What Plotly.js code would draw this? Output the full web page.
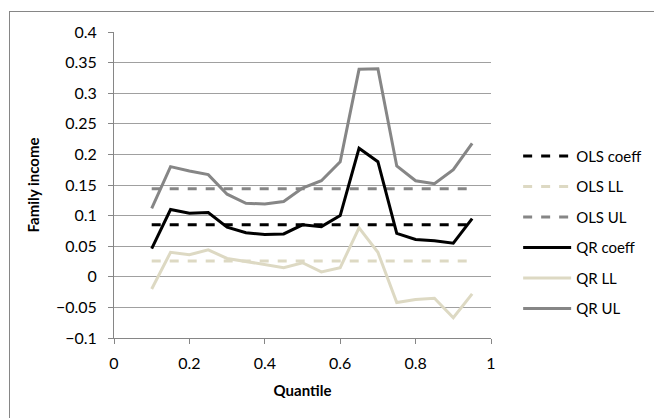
<!DOCTYPE html>
<html><head><meta charset="utf-8">
<script src="https://cdn.plot.ly/plotly-3.0.1.min.js"></script>
<style>
html,body{margin:0;padding:0;overflow:hidden;background:#fff;}
#frame{position:absolute;left:9px;top:11px;width:700px;height:500px;border:1px solid #868686;pointer-events:none;}
#chart{position:absolute;left:0;top:0;width:654px;height:418px;}
</style></head>
<body>
<div id="chart"></div>
<div id="frame"></div>
<script>
const quantiles = [0.1,0.15,0.2,0.25,0.3,0.35,0.4,0.45,0.5,0.55,0.6,0.65,0.7,0.75,0.8,0.85,0.9,0.95];
const olsCoeff = [0.085,0.085,0.085,0.085,0.085,0.085,0.085,0.085,0.085,0.085,0.085,0.085,0.085,0.085,0.085,0.085,0.085,0.085];
const olsLL = [0.026,0.026,0.026,0.026,0.026,0.026,0.026,0.026,0.026,0.026,0.026,0.026,0.026,0.026,0.026,0.026,0.026,0.026];
const olsUL = [0.144,0.144,0.144,0.144,0.144,0.144,0.144,0.144,0.144,0.144,0.144,0.144,0.144,0.144,0.144,0.144,0.144,0.144];
const qrCoeff = [0.046,0.110,0.104,0.105,0.081,0.072,0.069,0.070,0.085,0.082,0.100,0.210,0.188,0.071,0.061,0.059,0.055,0.095];
const qrLL = [-0.020,0.040,0.036,0.044,0.030,0.025,0.019,0.015,0.023,0.008,0.015,0.080,0.040,-0.042,-0.037,-0.035,-0.067,-0.028];
const qrUL = [0.112,0.180,0.173,0.167,0.135,0.120,0.119,0.123,0.145,0.157,0.188,0.339,0.340,0.181,0.157,0.152,0.175,0.218];
const seriesNames = ["OLS coeff","OLS LL","OLS UL","QR coeff","QR LL","QR UL"];

const black = "#000000", tan = "#ddd9c3", gray = "#868686";
const defs = [
  [olsCoeff, black, "dash"],
  [olsLL, tan, "dash"],
  [olsUL, gray, "dash"],
  [qrCoeff, black, "solid"],
  [qrLL, tan, "solid"],
  [qrUL, gray, "solid"]
];
const traces = defs.map((d,i)=>({
  x: quantiles, y: d[0], name: seriesNames[i], type: "scatter", mode: "lines",
  legendgroup: "g"+i,
  line: {color: d[1], width: 3, dash: d[2]}
}));
const fam = "Lato, 'Open Sans', sans-serif";
const tickFont = {family: fam, size: 16, color: "#000"};
const titleFont = {family: fam, size: 15, color: "#000"};
const layout = {
  width: 654, height: 418,
  margin: {l: 114, r: 163, t: 32, b: 80, autoexpand: false},
  paper_bgcolor: "#fff", plot_bgcolor: "#fff",
  font: tickFont,
  showlegend: true,
  legend: {x: 1.072, y: 0.648, xanchor: "left", yanchor: "top", tracegroupgap: 8, itemwidth: 48,
           font: {family: fam, size: 15, color: "#000"}, bgcolor: "rgba(0,0,0,0)"},
  xaxis: {range: [0,1], dtick: 0.2, tick0: 0, showgrid: false, zeroline: false,
          showline: true, linecolor: gray, linewidth: 1, ticks: "outside", ticklen: 5, tickcolor: gray,
          tickfont: tickFont, ticklabelstandoff: 6,
          title: {text: "<b>Quantile</b>", font: titleFont, standoff: 14}},
  yaxis: {range: [-0.1,0.4], dtick: 0.05, tick0: 0, showgrid: true, gridcolor: "#a0a0a0", gridwidth: 1,
          zeroline: false, showline: true, linecolor: gray, linewidth: 1, ticks: "outside", ticklen: 5, tickcolor: gray,
          tickfont: tickFont, ticklabelstandoff: 8,
          title: {text: "<b>Family income</b>", font: titleFont, standoff: 12}}
};
Plotly.newPlot("chart", traces, layout, {staticPlot: true});
</script>
</body></html>
